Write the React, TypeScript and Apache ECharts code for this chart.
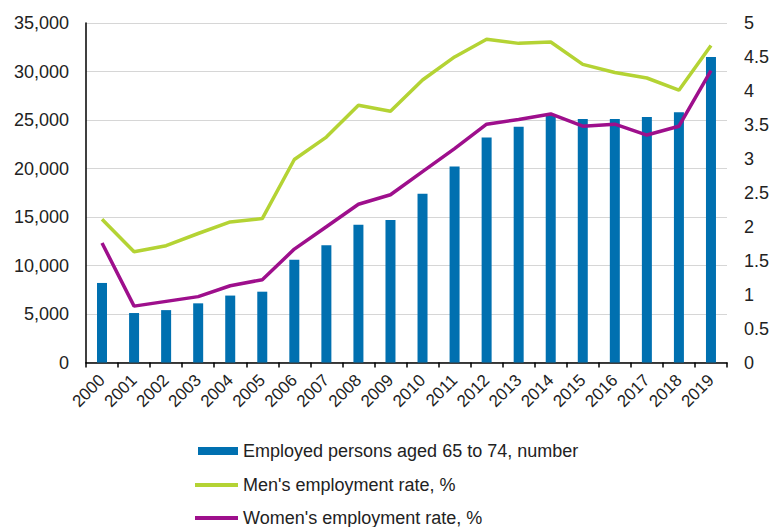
import React, { useEffect, useRef } from "react";
import * as echarts from "echarts";

const years = ["2000","2001","2002","2003","2004","2005","2006","2007","2008","2009","2010","2011","2012","2013","2014","2015","2016","2017","2018","2019"];
const employed = [8200,5100,5400,6100,6900,7300,10600,12100,14200,14700,17400,20200,23200,24300,25400,25100,25100,25300,25800,31500];
const menRate = [2.11,1.63,1.72,1.9,2.07,2.12,2.99,3.32,3.79,3.7,4.16,4.5,4.76,4.7,4.72,4.39,4.27,4.19,4.01,4.67];
const womenRate = [1.76,0.83,0.9,0.97,1.13,1.22,1.67,2.0,2.33,2.47,2.81,3.15,3.51,3.58,3.66,3.48,3.51,3.35,3.48,4.3];
const leftTicks = { min: 0, max: 35000, interval: 5000 };
const rightTicks = { min: 0, max: 5, interval: 0.5 };
const names = ["Employed persons aged 65 to 74, number", "Men's employment rate, %", "Women's employment rate, %"];

const FONT = "'Liberation Sans', Arial, sans-serif";
const TXT = "#222";
const BLUE = "#0070b0";
const GREEN = "#b4d334";
const PURPLE = "#9e0f8c";

const legendText = { fontFamily: FONT, fontSize: 18, color: TXT };

export default function App() {
  const ref = useRef<HTMLDivElement>(null);
  useEffect(() => {
    const chart = echarts.init(ref.current!, null, { renderer: "svg" });
    chart.setOption({
      animation: false,
      textStyle: { fontFamily: FONT },
      grid: { left: 86, right: 46, top: 23, bottom: 164.5, containLabel: false },
      legend: [
        {
          left: 193, top: 437, itemWidth: 40, itemHeight: 8, itemGap: 0,
          textStyle: legendText,
          data: [{ name: names[0], icon: "rect", itemStyle: { color: BLUE } }],
        },
        {
          left: 190, top: 471, itemWidth: 43, itemHeight: 4, itemGap: 0,
          textStyle: legendText,
          data: [{ name: names[1], icon: "rect", itemStyle: { color: GREEN } }],
        },
        {
          left: 190, top: 504, itemWidth: 43, itemHeight: 4, itemGap: 0,
          textStyle: legendText,
          data: [{ name: names[2], icon: "rect", itemStyle: { color: PURPLE } }],
        },
      ],
      xAxis: {
        type: "category",
        data: years,
        boundaryGap: true,
        axisLine: { lineStyle: { color: "#000", width: 1.5 } },
        axisTick: { show: true, length: 5, interval: 0, lineStyle: { color: "#000", width: 1.5 } },
        axisLabel: { interval: 0, rotate: 45, fontSize: 17, color: TXT, margin: 15, fontFamily: FONT },
      },
      yAxis: [
        {
          type: "value",
          ...leftTicks,
          axisLine: { show: true, lineStyle: { color: "#000", width: 1.5 } },
          axisTick: { show: false },
          splitLine: { show: true, lineStyle: { color: "#d6d6d6", width: 1 } },
          axisLabel: {
            fontSize: 18,
            color: TXT,
            margin: 17,
            fontFamily: FONT,
            formatter: (v: number) => v.toLocaleString("en-US"),
          },
        },
        {
          type: "value",
          ...rightTicks,
          axisLine: { show: false },
          axisTick: { show: false },
          splitLine: { show: false },
          axisLabel: { fontSize: 18, color: TXT, margin: 17, fontFamily: FONT },
        },
      ],
      series: [
        {
          name: names[0],
          type: "bar",
          data: employed,
          barWidth: 10,
          itemStyle: { color: BLUE },
          yAxisIndex: 0,
        },
        {
          name: names[1],
          type: "line",
          data: menRate,
          yAxisIndex: 1,
          symbol: "none",
          lineStyle: { color: GREEN, width: 3.5 },
          itemStyle: { color: GREEN },
        },
        {
          name: names[2],
          type: "line",
          data: womenRate,
          yAxisIndex: 1,
          symbol: "none",
          lineStyle: { color: PURPLE, width: 3.5 },
          itemStyle: { color: PURPLE },
        },
      ],
    });
    return () => chart.dispose();
  }, []);
  return <div ref={ref} style={{ width: 773, height: 527, position: "absolute", left: 0, top: 0 }} />;
}
